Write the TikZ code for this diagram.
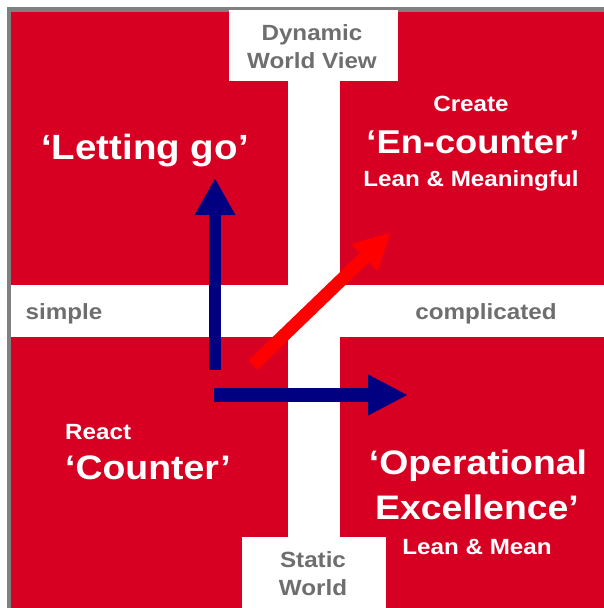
\documentclass[tikz,border=0pt]{standalone}
\usepackage{fontspec}
\setmainfont{Liberation Sans}[FakeStretch=1.1]
\usetikzlibrary{arrows.meta}
\definecolor{quadred}{RGB}{215,0,35}
\definecolor{framegray}{RGB}{128,128,128}
\definecolor{axisgray}{RGB}{110,110,110}
\definecolor{navy}{RGB}{0,0,128}
\definecolor{brightred}{RGB}{255,0,0}
\begin{document}
\begin{tikzpicture}[x=1pt, y=-1pt,
        axislbl/.style={text=axisgray, font=\bfseries\fontsize{22}{26}\selectfont, inner sep=0pt, anchor=base},
        biglbl/.style={text=white, font=\bfseries\fontsize{34}{40}\selectfont, inner sep=0pt, anchor=base},
        smalllbl/.style={text=white, font=\bfseries\fontsize{22}{26}\selectfont, inner sep=0pt, anchor=base},
        move/.style={draw=navy, line width=12pt, -{Triangle[length=37pt,width=38pt]}}]
        \useasboundingbox (0,0) rectangle (604,608);
        \fill[white] (0,0) rectangle (604,608);

        % red field, white cross cut out of it
        \fill[quadred] (11,11.5) rectangle (604,608);
        \fill[white] (287.5,11.5) rectangle (339.5,608);
        \fill[white] (11,285) rectangle (604,337);
        \fill[framegray] (7,7) rectangle (11,608);
        \fill[framegray] (7,7) rectangle (604,11.5);
        \fill[white] (229,9.5) rectangle (398,81);
        \fill[white] (242,537) rectangle (386,608);

        \node[axislbl] (dynamic) at (312,40) {Dynamic};
        \node[axislbl] (worldview) at (312,68) {World View};
        \node[axislbl] (simple) at (64,319) {simple};
        \node[axislbl] (complicated) at (486,319) {complicated};
        \node[axislbl] (static) at (313,567) {Static};
        \node[axislbl] (staticworld) at (313,595) {World};

        \node[biglbl, font=\bfseries\fontsize{35}{40}\selectfont] (letgo) at (145,159) {‘Letting go’};
        \node[smalllbl] (create) at (471,111) {Create};
        \node[biglbl, font=\bfseries\fontsize{33}{40}\selectfont] (encounter) at (473,153) {‘En-counter’};
        \node[smalllbl] (meaningful) at (471,186) {Lean \& Meaningful};
        \node[smalllbl, anchor=base west] (react) at (65,439) {React};
        \node[biglbl, anchor=base west] (counter) at (65,479) {‘Counter’};
        \node[biglbl] (operational) at (478,474) {‘Operational};
        \node[biglbl] (excellence) at (477,519) {Excellence’};
        \node[smalllbl] (mean) at (477,554) {Lean \& Mean};

        \coordinate (uptail) at (215,370);
        \coordinate (uphead) at (215,178);
        \coordinate (righttail) at (214,395);
        \coordinate (righthead) at (408,395);
        \coordinate (diagtail) at (253,365);
        \coordinate (diaghead) at (391,232);

        \draw[move] (uptail) -- (uphead);
        \draw[move, line width=14pt, -{Triangle[length=40pt,width=38pt]}] (righttail) -- (righthead);
        \draw[move, draw=brightred, line width=13pt, -{Triangle[length=37pt,width=35pt]}] (diagtail) -- (diaghead);
    \end{tikzpicture}
\end{document}
